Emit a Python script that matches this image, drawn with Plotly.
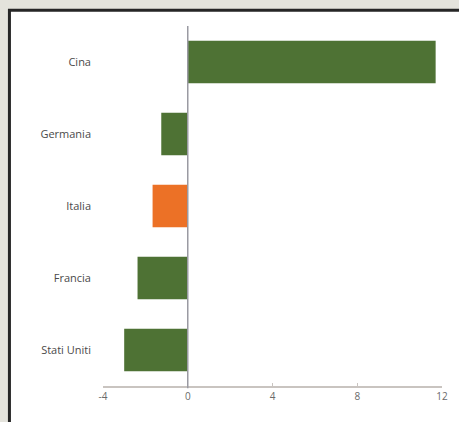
import plotly.graph_objects as go

# Paesi, dal basso verso l'alto
paesi = ["Stati Uniti", "Francia", "Italia", "Germania", "Cina"]
valori = [-3.0, -2.37, -1.66, -1.25, 11.7]
colori = ["#4e7234", "#4e7234", "#ec7126", "#4e7234", "#4e7234"]

tick_x = [-4, 0, 4, 8, 12]
tick_x_testo = ["-4", "0", "4", "8", "12"]

fig = go.Figure()
fig.add_trace(go.Bar(
    x=valori,
    y=paesi,
    orientation="h",
    width=0.59,
    marker=dict(color=colori, line=dict(width=0)),
    hoverinfo="skip",
))

# riquadro bianco con bordo scuro (aperto a destra e in basso)
fig.add_shape(type="rect", xref="paper", yref="paper",
              x0=-0.276, x1=3.0, y0=-1.0, y1=1.044,
              fillcolor="white", line=dict(color="#262626", width=3),
              layer="below")

# linea dello zero
fig.add_shape(type="line", xref="x", yref="paper",
              x0=0, x1=0, y0=-0.006, y1=1,
              line=dict(color="#9a9aa2", width=1.5), layer="above")

fig.update_layout(
    width=459, height=422,
    margin=dict(l=103, r=17, t=26, b=36),
    paper_bgcolor="#e4e3dc",
    plot_bgcolor="rgba(0,0,0,0)",
    showlegend=False,
    bargap=0.4,
    font=dict(family="Open Sans, sans-serif", color="#555555"),
)
fig.update_xaxes(
    range=[-4, 12],
    tickvals=tick_x, ticktext=tick_x_testo,
    showgrid=False, zeroline=False,
    showline=True, linecolor="#c9c4c0", linewidth=2,
    ticks="inside", ticklen=3, tickcolor="#c9c4c0",
    tickfont=dict(size=10, color="#6a6a6a"),
    fixedrange=True,
)
fig.update_yaxes(
    range=[-0.5, 4.5],
    categoryorder="array", categoryarray=paesi,
    showgrid=False, zeroline=False, showline=False,
    ticks="", ticklabelstandoff=11,
    tickfont=dict(size=11, color="#4a4a4a"),
    fixedrange=True,
)

fig.write_html("out.html", config={"displayModeBar": False})
